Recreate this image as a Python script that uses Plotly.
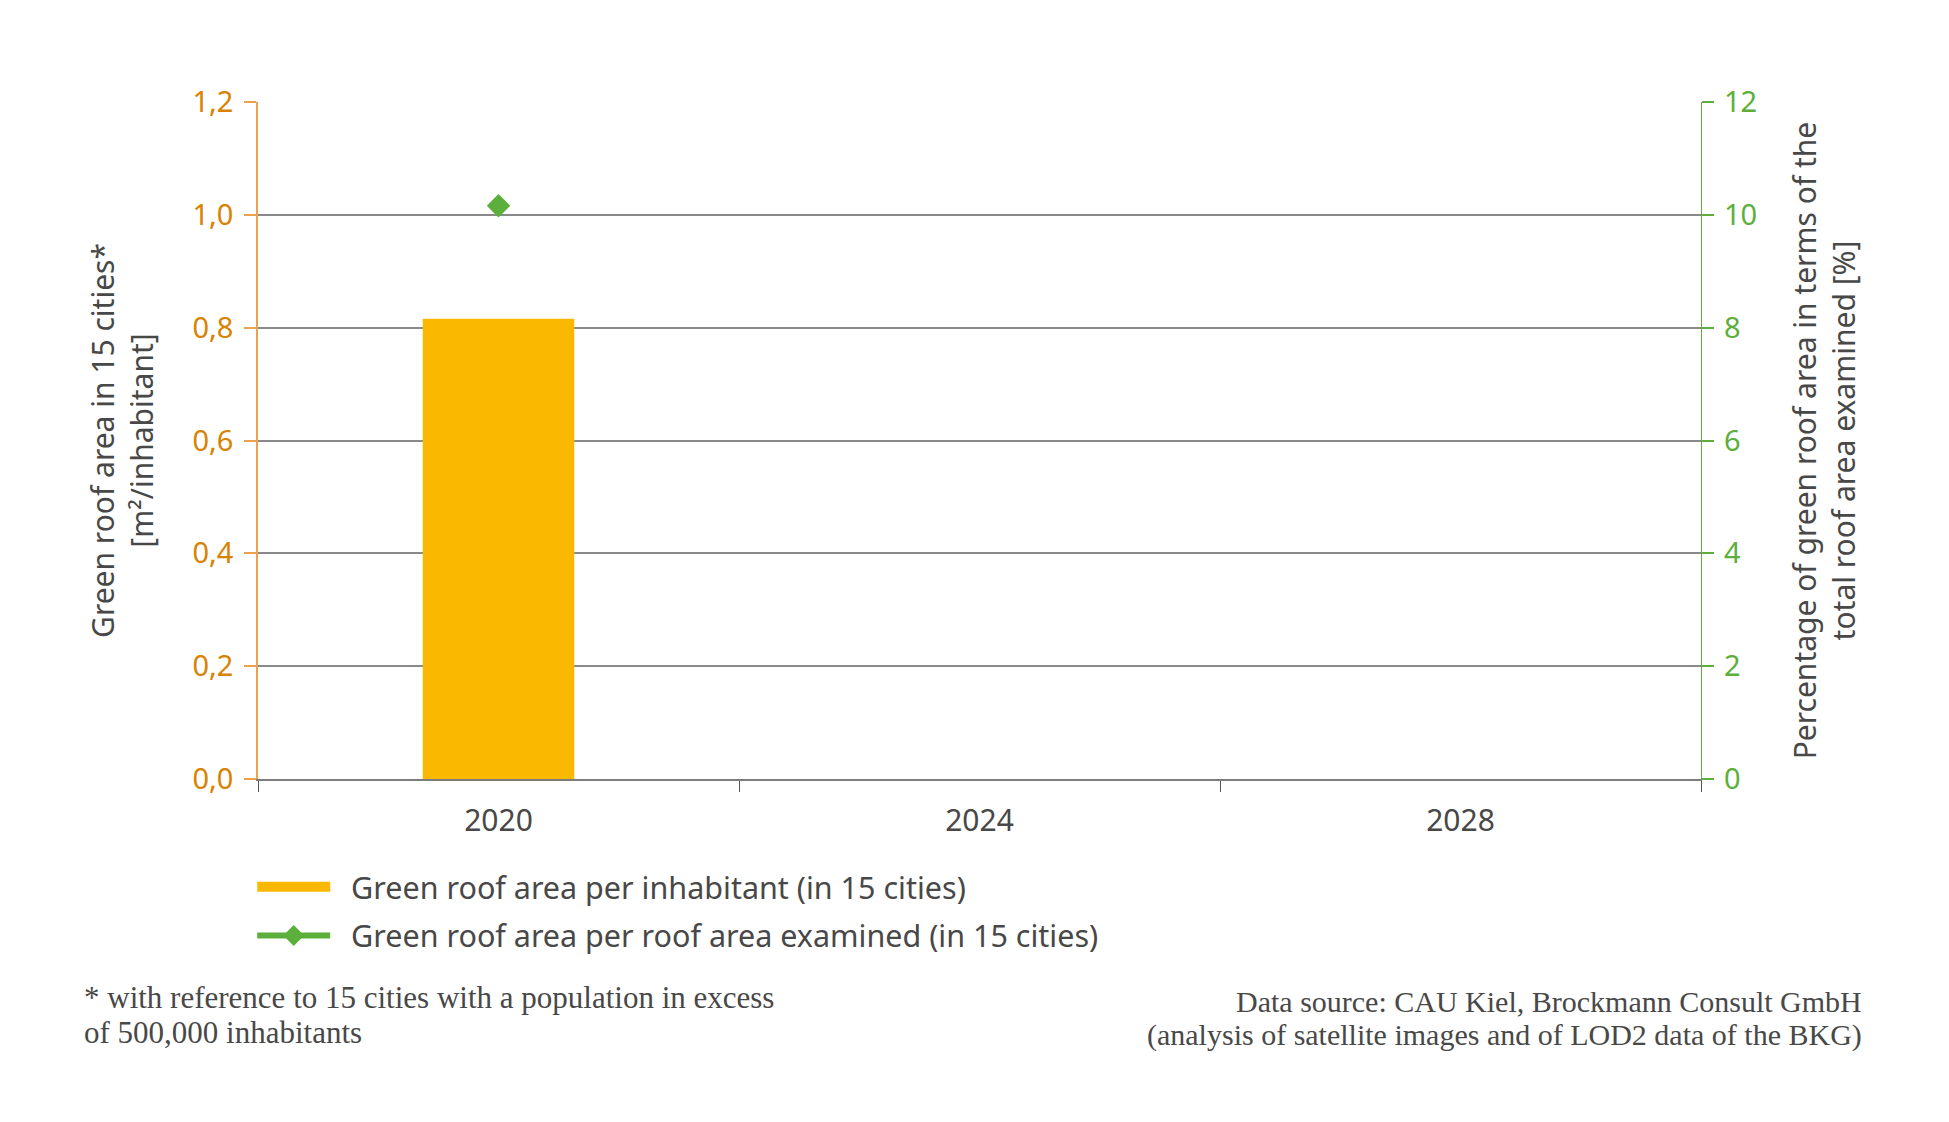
import plotly.graph_objects as go

years = ["2020", "2024", "2028"]
roof_per_inhabitant = [0.816, None, None]
roof_share_pct = [10.16, None, None]
left_ticks = [0.0, 0.2, 0.4, 0.6, 0.8, 1.0, 1.2]
right_ticks = [0, 2, 4, 6, 8, 10, 12]
bar_label = "Green roof area per inhabitant (in 15 cities)"
line_label = "Green roof area per roof area examined (in 15 cities)"
footnote_lines = ["* with reference to 15 cities with a population in excess",
                  "of 500,000 inhabitants"]
source_lines = ["Data source: CAU Kiel, Brockmann Consult GmbH",
                "(analysis of satellite images and of LOD2 data of the BKG)"]

ORANGE_TXT = "#D98200"
ORANGE_LINE = "#EBA24C"
GREEN = "#5BAF3A"
BAR = "#FAB900"
GREY_TXT = "#484848"
GRID = "#8A8A8A"
SANS = "Noto Sans, Open Sans, sans-serif"
SERIF = "Liberation Serif, DejaVu Serif, serif"
NB = "\u00a0\u00a0"

W, H = 1949, 1122
L, R, T, B = 258, 248, 102, 343

fig = go.Figure()
fig.add_trace(go.Bar(
    x=years, y=roof_per_inhabitant, width=0.315,
    marker=dict(color=BAR, line=dict(width=0)),
    name=bar_label, showlegend=False, yaxis="y",
))
# legend entry for the bar series (wide swatch)
fig.add_trace(go.Scatter(
    x=[None], y=[None], mode="lines",
    line=dict(color=BAR, width=19),
    name=NB + bar_label, legendgroup="a", yaxis="y",
))
fig.add_trace(go.Scatter(
    x=years, y=roof_share_pct, mode="lines+markers",
    line=dict(color=GREEN, width=6),
    marker=dict(symbol="diamond", size=18, color=GREEN),
    name=NB + line_label, legendgroup="b", yaxis="y2",
))

fig.update_layout(
    width=W, height=H,
    margin=dict(l=L, r=R, t=T, b=B, autoexpand=False),
    paper_bgcolor="white", plot_bgcolor="white",
    separators=",.",
    font=dict(family=SANS, color=GREY_TXT, size=24),
    showlegend=True,
    legend=dict(
        x=-0.004, y=-0.1204, xanchor="left", yanchor="top",
        font=dict(family=SANS, size=30.5, color=GREY_TXT),
        tracegroupgap=6, itemwidth=73, bgcolor="rgba(0,0,0,0)",
    ),
    xaxis=dict(
        type="category", categoryorder="array", categoryarray=years,
        showgrid=False, showline=True, linecolor="#7C7C7C", linewidth=2,
        ticks="outside", tickson="boundaries", ticklen=11, tickcolor="#555555", tickwidth=1.2,
        tickfont=dict(family=SANS, size=30, color=GREY_TXT),
        ticklabelstandoff=14,
        zeroline=False, fixedrange=True,
    ),
    yaxis=dict(
        range=[0, 1.2], tickvals=left_ticks, tickformat=".1f",
        showgrid=True, gridcolor=GRID, gridwidth=1.5,
        showline=True, linecolor=ORANGE_LINE, linewidth=1.5,
        ticks="outside", ticklen=12, tickcolor=ORANGE_LINE, tickwidth=1.5,
        tickfont=dict(family=SANS, size=29, color=ORANGE_TXT),
        ticklabelstandoff=5,
        zeroline=False,
        title=dict(text="Green roof area in 15 cities*<br>[m²/inhabitant]",
                   font=dict(family=SANS, size=30, color=GREY_TXT),
                   standoff=30),
    ),
    yaxis2=dict(
        range=[0, 12], tickvals=right_ticks, overlaying="y", side="right",
        showgrid=False, showline=True, linecolor=GREEN, linewidth=1.3,
        ticks="outside", ticklen=12, tickcolor=GREEN, tickwidth=1.5,
        tickfont=dict(family=SANS, size=29, color=GREEN),
        ticklabelstandoff=4,
        zeroline=False,
        title=dict(text="Percentage of green roof area in terms of the<br>total roof area examined [%]",
                   font=dict(family=SANS, size=30, color=GREY_TXT),
                   standoff=38),
    ),
)

for txt, yy in zip(footnote_lines, [-0.3234, -0.375]):
    fig.add_annotation(
        xref="paper", yref="paper", x=-0.122, y=yy, xanchor="left", yanchor="middle",
        align="left", showarrow=False, text=txt,
        font=dict(family=SERIF, size=31, color=GREY_TXT),
    )
for txt, yy in zip(source_lines, [-0.3293, -0.3787]):
    fig.add_annotation(
        xref="paper", yref="paper", x=1.113, y=yy, xanchor="right", yanchor="middle",
        align="right", showarrow=False, text=txt,
        font=dict(family=SERIF, size=30, color=GREY_TXT),
    )

fig.write_html("out.html", post_script="document.body.style.margin='0';",
               config={"displayModeBar": False})
